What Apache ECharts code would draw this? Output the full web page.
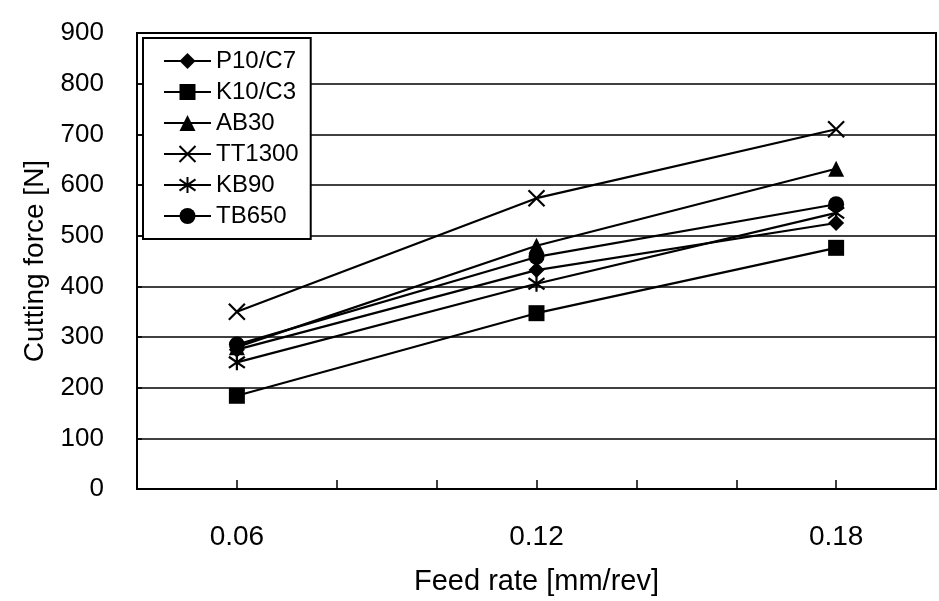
<!DOCTYPE html>
<html>
<head>
<meta charset="utf-8">
<style>
  html, body { margin: 0; padding: 0; background: #fff; }
  #chart { width: 939px; height: 601px; }
</style>
<script src="https://cdn.jsdelivr.net/npm/echarts@6/dist/echarts.min.js"></script>
</head>
<body>
<div id="chart"></div>
<script>
// Feed rates (mm/rev) and the cutting force measured for each tool grade (N)
const feedRates = [0.06, 0.12, 0.18];
const xTickLabels = ['0.06', '0.12', '0.18'];
const seriesNames = ['P10/C7', 'K10/C3', 'AB30', 'TT1300', 'KB90', 'TB650'];
const forceP10C7 = [275, 432, 525];
const forceK10C3 = [184, 347, 476];
const forceAB30 = [280, 480, 632];
const forceTT1300 = [350, 574, 710];
const forceKB90 = [250, 405, 545];
const forceTB650 = [285, 458, 562];

const FONT = '"Liberation Sans", Arial, sans-serif';
const symbolCross = 'path://M0,0 L10,10 M10,0 L0,10';
const symbolStar = 'path://M5,0 L5,10 M1,1.5 L9,8.5 M9,1.5 L1,8.5';

function pairs(values) {
  return feedRates.map((f, i) => [f, values[i]]);
}

function makeSeries(name, values, symbol, size, stroked) {
  return {
    name: name,
    type: 'line',
    data: pairs(values),
    symbol: symbol,
    symbolSize: size,
    showAllSymbol: true,
    lineStyle: { color: '#000', width: 2.2 },
    itemStyle: stroked
      ? { color: 'rgba(0,0,0,0)', borderColor: '#000', borderWidth: 2.2 }
      : { color: '#000', borderColor: '#000', borderWidth: 0 },
    emphasis: { disabled: true },
    animation: false
  };
}

const chart = echarts.init(document.getElementById('chart'), null, { renderer: 'canvas' });

chart.setOption({
  backgroundColor: '#fff',
  animation: false,
  grid: {
    left: 137, right: 3, top: 33, bottom: 112,
    show: true, borderColor: '#000', borderWidth: 2, backgroundColor: 'transparent'
  },
  legend: {
    orient: 'vertical',
    left: 143, top: 38,
    padding: [11, 12, 11, 20],
    itemWidth: 47, itemHeight: 20, itemGap: 7,
    backgroundColor: '#fff',
    borderColor: '#000', borderWidth: 2, borderRadius: 0,
    textStyle: { fontFamily: FONT, fontSize: 24, color: '#000' },
    data: seriesNames,
    selectedMode: false
  },
  xAxis: {
    type: 'value',
    min: 0.04, max: 0.2, interval: 0.02,
    name: 'Feed rate [mm/rev]',
    nameLocation: 'middle',
    nameGap: 78,
    nameTextStyle: { fontFamily: FONT, fontSize: 29, color: '#000' },
    axisLine: { show: true, lineStyle: { color: '#000', width: 2 } },
    axisTick: { show: true, inside: true, length: 9, lineStyle: { color: '#000', width: 1.5 } },
    axisLabel: {
      fontFamily: FONT, fontSize: 28, color: '#000', margin: 34,
      showMinLabel: true, showMaxLabel: true,
      formatter: function (v) {
        const s = v.toFixed(2);
        return xTickLabels.indexOf(s) >= 0 ? s : '';
      }
    },
    splitLine: { show: false }
  },
  yAxis: {
    type: 'value',
    min: 0, max: 900, interval: 100,
    name: 'Cutting force [N]',
    nameLocation: 'middle',
    nameGap: 87,
    nameTextStyle: { fontFamily: FONT, fontSize: 28, color: '#000' },
    axisLine: { show: true, lineStyle: { color: '#000', width: 2 } },
    axisTick: { show: true, inside: true, length: 5, lineStyle: { color: '#000', width: 1.5 } },
    axisLabel: { fontFamily: FONT, fontSize: 26, color: '#000', margin: 33 },
    splitLine: { show: true, lineStyle: { color: '#000', width: 1.5 } }
  },
  series: [
    makeSeries(seriesNames[0], forceP10C7, 'diamond', 16, false),
    makeSeries(seriesNames[1], forceK10C3, 'rect', 16, false),
    makeSeries(seriesNames[2], forceAB30, 'triangle', 16, false),
    makeSeries(seriesNames[3], forceTT1300, symbolCross, 16, true),
    makeSeries(seriesNames[4], forceKB90, symbolStar, 16, true),
    makeSeries(seriesNames[5], forceTB650, 'circle', 16, false)
  ]
});
</script>
</body>
</html>
